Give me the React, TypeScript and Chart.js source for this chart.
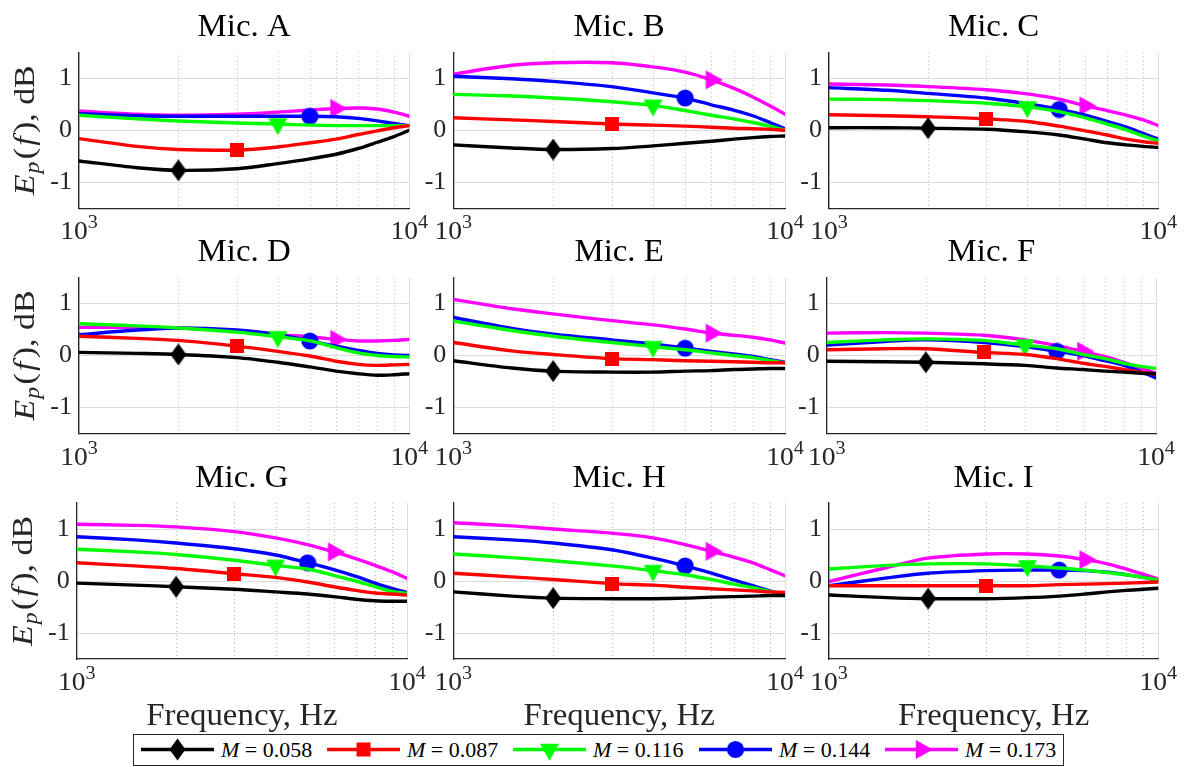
import React, { useEffect, useRef } from 'react';
import { Chart, registerables } from 'chart.js';
Chart.register(...registerables);

// ---------- data ----------
const freqs = [1000, 1500, 2000, 3000, 4000, 5000, 6000, 7000, 8000, 9000, 10000];
const machLabels = ['0.058', '0.087', '0.116', '0.144', '0.173'];
const seriesColors = ['#000000', '#ff0000', '#00ff00', '#0000ff', '#ff00ff'];
const markerFreqs = [2000, 3000, 4000, 5000, 6000];
const panelNames = ['A', 'B', 'C', 'D', 'E', 'F', 'G', 'H', 'I'];
const yTickValues = [-1, 0, 1];
const xTickValues = [1000, 2000, 3000, 4000, 5000, 6000, 7000, 8000, 9000, 10000];
const xMajorTicks = [1000, 10000];

// each panel: [M=0.058, M=0.087, M=0.116, M=0.144, M=0.173]
const micA = [
  [-0.59, -0.72, -0.77, -0.74, -0.64, -0.55, -0.46, -0.35, -0.23, -0.12, 0.0],
  [-0.16, -0.31, -0.37, -0.38, -0.32, -0.24, -0.17, -0.08, -0.01, 0.05, 0.09],
  [0.29, 0.22, 0.18, 0.14, 0.12, 0.10, 0.09, 0.09, 0.09, 0.09, 0.09],
  [0.32, 0.28, 0.27, 0.27, 0.27, 0.27, 0.26, 0.23, 0.18, 0.13, 0.09],
  [0.37, 0.31, 0.29, 0.31, 0.35, 0.39, 0.42, 0.43, 0.41, 0.35, 0.27],
];
const micB = [
  [-0.28, -0.34, -0.37, -0.35, -0.30, -0.25, -0.21, -0.17, -0.14, -0.12, -0.11],
  [0.24, 0.20, 0.17, 0.12, 0.10, 0.08, 0.06, 0.04, 0.03, 0.02, 0.0],
  [0.69, 0.66, 0.62, 0.55, 0.48, 0.38, 0.29, 0.22, 0.15, 0.08, 0.0],
  [1.04, 0.99, 0.94, 0.84, 0.72, 0.62, 0.49, 0.39, 0.28, 0.15, 0.03],
  [1.08, 1.25, 1.30, 1.30, 1.22, 1.12, 0.97, 0.81, 0.64, 0.47, 0.31],
];
const micC = [
  [0.05, 0.05, 0.04, 0.02, -0.03, -0.09, -0.17, -0.24, -0.28, -0.31, -0.33],
  [0.30, 0.28, 0.26, 0.22, 0.17, 0.08, -0.01, -0.09, -0.17, -0.22, -0.25],
  [0.60, 0.59, 0.57, 0.52, 0.45, 0.36, 0.24, 0.12, 0.01, -0.11, -0.20],
  [0.82, 0.77, 0.71, 0.62, 0.51, 0.40, 0.29, 0.17, 0.06, -0.06, -0.17],
  [0.89, 0.87, 0.84, 0.78, 0.70, 0.60, 0.47, 0.38, 0.29, 0.20, 0.09],
];
const micD = [
  [0.06, 0.04, 0.02, -0.04, -0.13, -0.22, -0.30, -0.35, -0.38, -0.37, -0.35],
  [0.37, 0.33, 0.29, 0.18, 0.08, -0.01, -0.11, -0.17, -0.19, -0.18, -0.17],
  [0.61, 0.57, 0.53, 0.45, 0.36, 0.28, 0.15, 0.05, 0.0, -0.02, -0.03],
  [0.40, 0.49, 0.53, 0.49, 0.40, 0.28, 0.18, 0.10, 0.04, 0.01, 0.0],
  [0.54, 0.54, 0.53, 0.47, 0.40, 0.36, 0.31, 0.28, 0.28, 0.29, 0.31],
];
const micE = [
  [-0.10, -0.24, -0.30, -0.32, -0.32, -0.30, -0.29, -0.27, -0.26, -0.25, -0.25],
  [0.25, 0.09, 0.02, -0.06, -0.08, -0.10, -0.11, -0.12, -0.13, -0.14, -0.14],
  [0.66, 0.48, 0.37, 0.25, 0.17, 0.11, 0.05, 0.0, -0.04, -0.10, -0.14],
  [0.73, 0.52, 0.41, 0.30, 0.22, 0.14, 0.08, 0.03, -0.02, -0.08, -0.13],
  [1.08, 0.90, 0.80, 0.67, 0.59, 0.51, 0.43, 0.39, 0.35, 0.30, 0.24],
];
const micF = [
  [-0.11, -0.12, -0.13, -0.16, -0.19, -0.24, -0.27, -0.30, -0.32, -0.34, -0.35],
  [0.11, 0.13, 0.13, 0.06, 0.02, -0.06, -0.15, -0.21, -0.27, -0.32, -0.36],
  [0.25, 0.30, 0.32, 0.29, 0.20, 0.13, 0.02, -0.06, -0.15, -0.21, -0.25],
  [0.20, 0.27, 0.30, 0.25, 0.17, 0.08, 0.0, -0.10, -0.19, -0.31, -0.43],
  [0.43, 0.44, 0.43, 0.39, 0.30, 0.19, 0.08, -0.02, -0.13, -0.24, -0.34],
];
const micG = [
  [-0.04, -0.08, -0.11, -0.16, -0.21, -0.25, -0.30, -0.35, -0.38, -0.39, -0.39],
  [0.35, 0.29, 0.24, 0.14, 0.07, -0.02, -0.11, -0.18, -0.23, -0.25, -0.27],
  [0.61, 0.56, 0.51, 0.40, 0.30, 0.23, 0.11, 0.0, -0.11, -0.20, -0.24],
  [0.85, 0.79, 0.73, 0.62, 0.50, 0.35, 0.22, 0.09, -0.04, -0.14, -0.22],
  [1.09, 1.07, 1.04, 0.95, 0.83, 0.70, 0.56, 0.43, 0.30, 0.18, 0.05],
];
const micH = [
  [-0.21, -0.29, -0.33, -0.34, -0.34, -0.33, -0.31, -0.30, -0.29, -0.28, -0.28],
  [0.15, 0.08, 0.03, -0.05, -0.08, -0.12, -0.15, -0.17, -0.19, -0.21, -0.22],
  [0.52, 0.45, 0.39, 0.29, 0.20, 0.12, 0.03, -0.06, -0.13, -0.20, -0.26],
  [0.85, 0.79, 0.73, 0.60, 0.44, 0.29, 0.15, 0.02, -0.09, -0.19, -0.28],
  [1.12, 1.06, 1.00, 0.92, 0.83, 0.70, 0.57, 0.46, 0.35, 0.22, 0.10],
];
const micI = [
  [-0.27, -0.32, -0.34, -0.34, -0.32, -0.29, -0.25, -0.21, -0.18, -0.16, -0.14],
  [-0.09, -0.09, -0.09, -0.09, -0.09, -0.07, -0.06, -0.05, -0.04, -0.03, -0.02],
  [0.23, 0.30, 0.33, 0.33, 0.29, 0.25, 0.21, 0.16, 0.12, 0.07, 0.02],
  [-0.09, 0.06, 0.15, 0.20, 0.21, 0.21, 0.20, 0.17, 0.12, 0.07, 0.01],
  [-0.01, 0.26, 0.44, 0.52, 0.52, 0.48, 0.41, 0.33, 0.23, 0.13, 0.04],
];
const panelData = [micA, micB, micC, micD, micE, micF, micG, micH, micI];

// ---------- layout ----------
const colLeft = [
  [79, 453.3, 829],
  [79, 453.3, 826.7],
  [76.7, 453.3, 829],
];
const rowTop = [52.3, 277.5, 503];
const colWidth = [330.3, 331.7, 329.3];
const plotHeight = 156;
const FONT = '"Liberation Serif", "Times New Roman", serif';
const SX = 1.06;
const TEXT = '#262626';

// ---------- markers ----------
function makeMarker(kind: number, color: string): HTMLCanvasElement {
  const cv = document.createElement('canvas');
  let w = 16, h = 16;
  if (kind === 0) { w = 16; h = 22; }
  if (kind === 1) { w = 14; h = 14; }
  if (kind === 2) { w = 19; h = 24; }
  if (kind === 3) { w = 18; h = 18; }
  if (kind === 4) { w = 24; h = 20; }
  cv.width = w; cv.height = h;
  const g = cv.getContext('2d')!;
  g.fillStyle = color;
  g.beginPath();
  if (kind === 0) {
    g.moveTo(8, 0); g.lineTo(16, 11); g.lineTo(8, 22); g.lineTo(0, 11);
  } else if (kind === 1) {
    g.rect(0, 0, 14, 14);
  } else if (kind === 2) {
    const H = 17, c = 12;
    g.moveTo(0, c - H / 3); g.lineTo(19, c - H / 3); g.lineTo(9.5, c + (2 * H) / 3);
  } else if (kind === 3) {
    g.arc(9, 9, 8.6, 0, Math.PI * 2);
  } else {
    const W = 17, c = 12;
    g.moveTo(c - W / 3, 0.5); g.lineTo(c + (2 * W) / 3, 10); g.lineTo(c - W / 3, 19.5);
  }
  g.closePath();
  g.fill();
  return cv;
}

function drawText(ctx: CanvasRenderingContext2D, text: string, x: number, y: number, size: number,
  color: string, align: CanvasTextAlign, italic = false) {
  ctx.save();
  ctx.translate(x, y);
  ctx.scale(SX, 1);
  ctx.font = `${italic ? 'italic ' : ''}${size}px ${FONT}`;
  ctx.fillStyle = color;
  ctx.textAlign = align;
  ctx.textBaseline = 'alphabetic';
  ctx.fillText(text, 0, 0);
  ctx.restore();
}

function Panel({ r, c }: { r: number; c: number }) {
  const ref = useRef<HTMLCanvasElement>(null);
  const idx = r * 3 + c;
  const L = colLeft[r][c];
  const T = rowTop[r];
  const W = colWidth[c];
  const cl = Math.floor(L) - 76;
  const ct = Math.floor(T) - 56;
  const yW = L - cl;
  const padT = T - ct;
  const cw = Math.ceil(yW + W + 44);
  const ch = Math.ceil(padT + plotHeight + 82);
  const padR = cw - yW - W;
  const xH = ch - padT - plotHeight;

  useEffect(() => {
    const canvas = ref.current!;
    const markers = seriesColors.map((col, s) => makeMarker(s, col));
    const series = panelData[idx];

    const minorGridPlugin = {
      id: 'minorGrid',
      beforeDatasetsDraw(chart: any) {
        const ctx: CanvasRenderingContext2D = chart.ctx;
        const ca = chart.chartArea;
        const xs = chart.scales.x;
        ctx.save();
        ctx.strokeStyle = '#b8b8b8';
        ctx.lineWidth = 1;
        ctx.setLineDash([1, 3]);
        xTickValues.forEach((v) => {
          if (xMajorTicks.includes(v)) return;
          const px = Math.round(xs.getPixelForValue(v)) + 0.5;
          ctx.beginPath();
          ctx.moveTo(px, ca.top);
          ctx.lineTo(px, ca.bottom);
          ctx.stroke();
        });
        ctx.restore();
      },
    };

    const textPlugin = {
      id: 'panelText',
      afterDraw(chart: any) {
        const ctx: CanvasRenderingContext2D = chart.ctx;
        const ca = chart.chartArea;
        const xs = chart.scales.x;
        ctx.save();
        drawText(ctx, `Mic. ${panelNames[idx]}`, (ca.left + ca.right) / 2, ca.top - 16.5, 31, '#000', 'center');
        xMajorTicks.forEach((v) => {
          const px = xs.getPixelForValue(v);
          const exp = String(Math.round(Math.log10(v)));
          ctx.font = `26px ${FONT}`;
          const w10 = ctx.measureText('10').width * SX;
          ctx.font = `19px ${FONT}`;
          const wE = ctx.measureText(exp).width * SX;
          const start = px - (w10 + wE) / 2;
          drawText(ctx, '10', start, ca.bottom + 31, 26, TEXT, 'left');
          drawText(ctx, exp, start + w10, ca.bottom + 20, 19, TEXT, 'left');
        });
        if (c === 0) {
          const pieces = [
            { t: 'E', size: 30, it: true, dy: 0, gap: 0 },
            { t: 'p', size: 21, it: true, dy: 5, gap: 1 },
            { t: '(', size: 30, it: false, dy: 0, gap: 2 },
            { t: 'f', size: 30, it: true, dy: 0, gap: 2 },
            { t: ')', size: 30, it: false, dy: 0, gap: 3 },
            { t: ', dB', size: 30, it: false, dy: 0, gap: 0 },
          ];
          let total = 0;
          const widths = pieces.map((p) => {
            ctx.font = `${p.it ? 'italic ' : ''}${p.size}px ${FONT}`;
            const w = ctx.measureText(p.t).width;
            total += w + p.gap;
            return w;
          });
          const k = 130 / total;
          ctx.save();
          ctx.translate(ca.left - 45, (ca.top + ca.bottom) / 2);
          ctx.rotate(-Math.PI / 2);
          ctx.scale(k, 1);
          let x = -total / 2;
          pieces.forEach((p, i) => {
            x += p.gap;
            ctx.font = `${p.it ? 'italic ' : ''}${p.size}px ${FONT}`;
            ctx.fillStyle = TEXT;
            ctx.textAlign = 'left';
            ctx.textBaseline = 'alphabetic';
            ctx.fillText(p.t, x, p.dy);
            x += widths[i];
          });
          ctx.restore();
        }
        if (r === 2) {
          drawText(ctx, 'Frequency, Hz', (ca.left + ca.right) / 2, ca.bottom + 66, 31, TEXT, 'center');
        }
        ctx.restore();
      },
    };

    const chart = new Chart(canvas, {
      type: 'line',
      data: {
        datasets: series.map((vals, s) => ({
          label: `M = ${machLabels[s]}`,
          data: freqs.map((f, i) => ({ x: f, y: vals[i] })),
          borderColor: seriesColors[s],
          backgroundColor: seriesColors[s],
          borderWidth: 3.4,
          tension: 0.3,
          borderCapStyle: 'round',
          borderJoinStyle: 'round',
          pointStyle: markers[s] as any,
          pointRadius: (ctx: any) => (freqs[ctx.dataIndex] === markerFreqs[s] ? 8 : 0),
          pointHoverRadius: 0,
          pointBorderWidth: 0,
          fill: false,
        })),
      },
      options: {
        animation: false,
        responsive: false,
        maintainAspectRatio: false,
        events: [],
        layout: { padding: { left: 0, top: padT, right: padR, bottom: 0 } },
        plugins: {
          legend: { display: false },
          tooltip: { enabled: false },
          title: { display: false },
        },
        scales: {
          x: {
            type: 'logarithmic',
            min: 1000,
            max: 10000,
            afterBuildTicks: (sc: any) => {
              sc.ticks = xTickValues.map((v) => ({ value: v }));
            },
            afterFit: (sc: any) => {
              sc.height = xH;
              sc.paddingLeft = 0;
              sc.paddingRight = 0;
            },
            ticks: { display: false },
            grid: {
              drawTicks: false,
              lineWidth: 1,
              color: (ctx: any) => {
                const v = ctx.tick ? ctx.tick.value : 0;
                return xMajorTicks.includes(v) ? '#dcdcdc' : 'rgba(0,0,0,0)';
              },
            },
            border: { display: true, color: TEXT, width: 1.3 },
          },
          y: {
            type: 'linear',
            min: -1.5,
            max: 1.5,
            afterBuildTicks: (sc: any) => {
              sc.ticks = yTickValues.map((v) => ({ value: v }));
            },
            afterFit: (sc: any) => {
              sc.width = yW;
              sc.paddingTop = 0;
              sc.paddingBottom = 0;
            },
            ticks: {
              color: TEXT,
              padding: 7,
              font: { family: FONT, size: 26 },
              callback: (v: any) => (Number(v) < 0 ? '-' + Math.abs(Number(v)) : String(v)),
            },
            grid: { drawTicks: false, color: '#dcdcdc', lineWidth: 1 },
            border: { display: true, color: TEXT, width: 1.3 },
          },
        },
      },
      plugins: [minorGridPlugin, textPlugin],
    } as any);
    return () => chart.destroy();
  }, []);

  return (
    <canvas
      ref={ref}
      width={cw}
      height={ch}
      style={{ position: 'absolute', left: cl, top: ct, width: cw, height: ch }}
    />
  );
}

function LegendMarker({ kind, cx, cy, color }: { kind: number; cx: number; cy: number; color: string }) {
  if (kind === 0) return <polygon points={`${cx},${cy - 11} ${cx + 8},${cy} ${cx},${cy + 11} ${cx - 8},${cy}`} fill={color} />;
  if (kind === 1) return <rect x={cx - 7} y={cy - 7} width={14} height={14} fill={color} />;
  if (kind === 2) {
    const H = 17;
    return <polygon points={`${cx - 9.5},${cy - H / 3} ${cx + 9.5},${cy - H / 3} ${cx},${cy + (2 * H) / 3}`} fill={color} />;
  }
  if (kind === 3) return <circle cx={cx} cy={cy} r={8.6} fill={color} />;
  const W = 17;
  return <polygon points={`${cx - W / 3},${cy - 9.5} ${cx + (2 * W) / 3},${cy} ${cx - W / 3},${cy + 9.5}`} fill={color} />;
}

function Legend() {
  const left = 133, top = 734, w = 930, h = 32, step = 186;
  return (
    <svg width={w + 2} height={h + 2} style={{ position: 'absolute', left, top }}>
      <rect x={0.5} y={0.5} width={w} height={h - 1} fill="#fff" stroke={TEXT} strokeWidth={1} />
      {machLabels.map((lab, s) => {
        const x0 = 8 + s * step;
        const cy = 15.5;
        return (
          <g key={s}>
            <line x1={x0} y1={cy} x2={x0 + 73} y2={cy} stroke={seriesColors[s]} strokeWidth={3.4} />
            <LegendMarker kind={s} cx={x0 + 36.5} cy={cy} color={seriesColors[s]} />
            <text
              transform={`translate(${x0 + 80}, 22.5)`}
              fontFamily={FONT}
              fontSize={22}
              fill="#000"
            >
              <tspan fontStyle="italic">M</tspan>
              <tspan> = {lab}</tspan>
            </text>
          </g>
        );
      })}
    </svg>
  );
}

export default function App() {
  const cells: [number, number][] = [];
  for (let r = 0; r < 3; r++) for (let c = 0; c < 3; c++) cells.push([r, c]);
  return (
    <div style={{ position: 'absolute', left: 0, top: 0, width: 1186, height: 767, background: '#fff', overflow: 'hidden' }}>
      {cells.map(([r, c]) => (
        <Panel key={`${r}-${c}`} r={r} c={c} />
      ))}
      <Legend />
    </div>
  );
}
